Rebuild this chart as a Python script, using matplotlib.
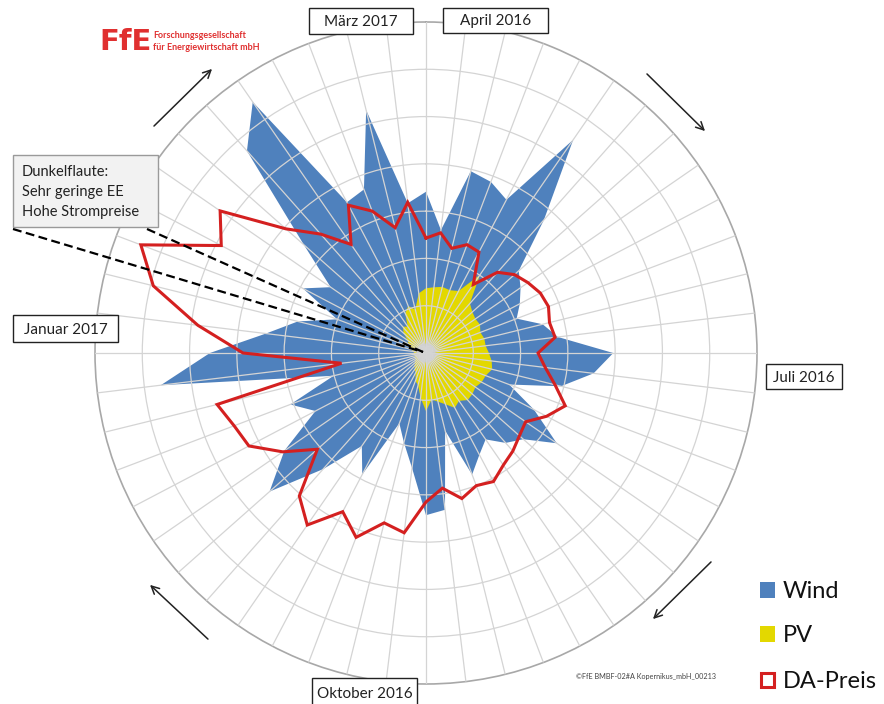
import numpy as np
import matplotlib.pyplot as plt
from matplotlib.patches import Rectangle, FancyArrowPatch

# weekly values (week 0 = start of April 2016, clockwise), normalised scale 0..70
wind = [34.1, 26.2, 39.6, 38.7, 36.6, 54.8, 37.6, 26.2, 24.3, 22.4, 20.5, 25.4, 28.1,
        39.6, 35.7, 29.4, 18.8, 25.8, 33.6, 27.5, 25.4, 22.2, 24.3, 27.5, 16.9, 33.4,
        34.3, 24.5, 19.5, 15.9, 29.0, 23.9, 32.8, 44.2, 36.4, 26.4, 30.7, 20.1, 56.5,
        45.7, 34.1, 27.9, 20.1, 29.4, 24.5, 34.5, 57.1, 64.5, 36.0, 37.0, 52.9, 31.9]
pv = [13.7, 14.0, 14.4, 14.2, 14.8, 20.1, 14.0, 13.1, 12.7, 12.9, 12.3, 12.7, 12.7,
      13.3, 14.0, 14.4, 13.5, 13.3, 12.7, 13.1, 13.3, 12.3, 13.1, 11.6, 10.6, 9.9,
      12.3, 9.5, 7.0, 6.3, 4.7, 4.2, 3.6, 3.2, 2.7, 2.5, 2.5, 2.5, 2.5,
      2.5, 2.7, 3.2, 3.4, 4.2, 4.7, 6.3, 7.4, 6.8, 9.5, 10.6, 9.5, 12.7]
price = [24.3, 25.6, 22.8, 24.5, 24.1, 17.6, 22.8, 25.0, 26.2, 27.3, 27.7, 26.9, 27.5,
         23.7, 25.4, 28.1, 31.5, 28.8, 25.6, 26.4, 27.7, 28.8, 30.7, 30.0, 31.7, 28.8,
         31.5, 38.3, 37.0, 41.7, 37.9, 44.2, 40.4, 30.7, 36.8, 42.3, 43.4, 45.5, 18.0,
         38.7, 48.6, 59.4, 64.5, 48.9, 52.9, 39.6, 33.6, 27.9, 35.3, 32.1, 27.3, 32.1]

month_labels = ["April 2016", "Juli 2016", "Oktober 2016", "Januar 2017", "März 2017"]
legend_labels = ["Wind", "PV", "DA-Preis"]
note_lines = ["Dunkelflaute:", "Sehr geringe EE", "Hohe Strompreise"]

W, H = 884, 704
BLUE = '#4F81BD'
YELLOW = '#E3D800'
RED = '#D42020'

def px(x, y):
    return x / W, 1 - y / H

plt.rcParams['font.family'] = ['Lato', 'DejaVu Sans']

fig = plt.figure(figsize=(W / 100, H / 100), dpi=100)
cx, cy, R = 426, 353, 331
ax = fig.add_axes([(cx - R) / W, 1 - (cy + R) / H, 2 * R / W, 2 * R / H], projection='polar')
ax.set_theta_zero_location('N')
ax.set_theta_direction(-1)

n = len(wind)
theta = np.arange(n) * 2 * np.pi / n
t_closed = np.append(theta, theta[0])

def closed(v):
    return np.append(v, v[0])

ax.fill(t_closed, closed(wind), color=BLUE, lw=0, zorder=1)
ax.fill(t_closed, closed(pv), color=YELLOW, lw=0, zorder=1.2)
ax.plot(t_closed, closed(price), color=RED, lw=2.2, zorder=4, solid_joinstyle='miter')

# grey centre
tt = np.linspace(0, 2 * np.pi, 100)
ax.fill(tt, np.full_like(tt, 2.0), color='#BEBEBE', lw=0, zorder=1.3)

ax.set_ylim(0, 70)
ax.set_yticks(np.arange(10, 70, 10))
ax.set_yticklabels([])
ax.set_xticks(theta)
ax.set_xticklabels([])
ax.set_axisbelow(False)
ax.grid(True, color='#D4D4D4', lw=0.9, zorder=2)
ax.spines['polar'].set_color('#A8A8A8')
ax.spines['polar'].set_linewidth(1.2)
ax.tick_params(length=0)

# month label boxes
boxes = [(443, 8, 105, 25), (766, 364, 76, 25), (312, 678, 105, 30), (13, 315, 105, 27), (309, 8, 104, 26)]
for lab, (x, y, w, h) in zip(month_labels, boxes):
    fig.add_artist(Rectangle(px(x, y + h), w / W, h / H, transform=fig.transFigure,
                             fc='white', ec='#222222', lw=1.0, zorder=5))
    fig.text(*px(x + w / 2, y + h / 2 + 1), lab, ha='center', va='center', fontsize=11,
             color='#222222', zorder=6)

# note box with dashed pointers
fig.add_artist(Rectangle(px(13, 227), 145 / W, 72 / H, transform=fig.transFigure,
                         fc='#F2F2F2', ec='#9A9A9A', lw=1.0, zorder=5))
for i, line in enumerate(note_lines):
    fig.text(*px(22, 172 + i * 20), line, ha='left', va='center', fontsize=10.5,
             color='#222222', zorder=6)
for sx, sy in [(13, 229), (147, 229)]:
    x0, y0 = px(sx, sy)
    x1, y1 = px(423, 352)
    fig.add_artist(plt.Line2D([x0, x1], [y0, y1], transform=fig.transFigure, color='black',
                              lw=1.6, ls=(0, (4, 2)), zorder=6))

# direction arrows
for a, b in [((152, 128), (214, 67)), ((645, 72), (707, 133)),
             ((713, 560), (651, 621)), ((210, 641), (148, 583))]:
    fig.add_artist(FancyArrowPatch(px(*a), px(*b), transform=fig.transFigure,
                                   arrowstyle='->', mutation_scale=14, lw=1.1, color='#222222'))

# logo
fig.text(*px(99, 42), 'FfE', fontsize=21, fontweight='black', color='#E03030',
         ha='left', va='center', family='DejaVu Sans Condensed')
fig.text(*px(153, 35), 'Forschungsgesellschaft', fontsize=6.5, fontweight='bold',
         color='#E03030', ha='left', va='center')
fig.text(*px(153, 47), 'für Energiewirtschaft mbH', fontsize=6.5, fontweight='bold',
         color='#E03030', ha='left', va='center')

# legend
leg_y = [590, 634, 680]
for lab, y, kind in zip(legend_labels, leg_y, ['Wind', 'PV', 'DA']):
    if kind == 'DA':
        fig.add_artist(Rectangle(px(761, y + 7), 13 / W, 14 / H, transform=fig.transFigure,
                                 fc='white', ec=RED, lw=2.2))
    else:
        fig.add_artist(Rectangle(px(760, y + 8), 15 / W, 16 / H, transform=fig.transFigure,
                                 fc=BLUE if kind == 'Wind' else YELLOW, ec='none'))
    fig.text(*px(783, y + 1), lab, fontsize=17, color='#111111', ha='left', va='center')

fig.text(*px(576, 677), '©FfE BMBF-02#A Kopernikus_mbH_00213', fontsize=5.2,
         color='#444444', ha='left', va='center')

fig.savefig('out.png', dpi=100, facecolor='white')
